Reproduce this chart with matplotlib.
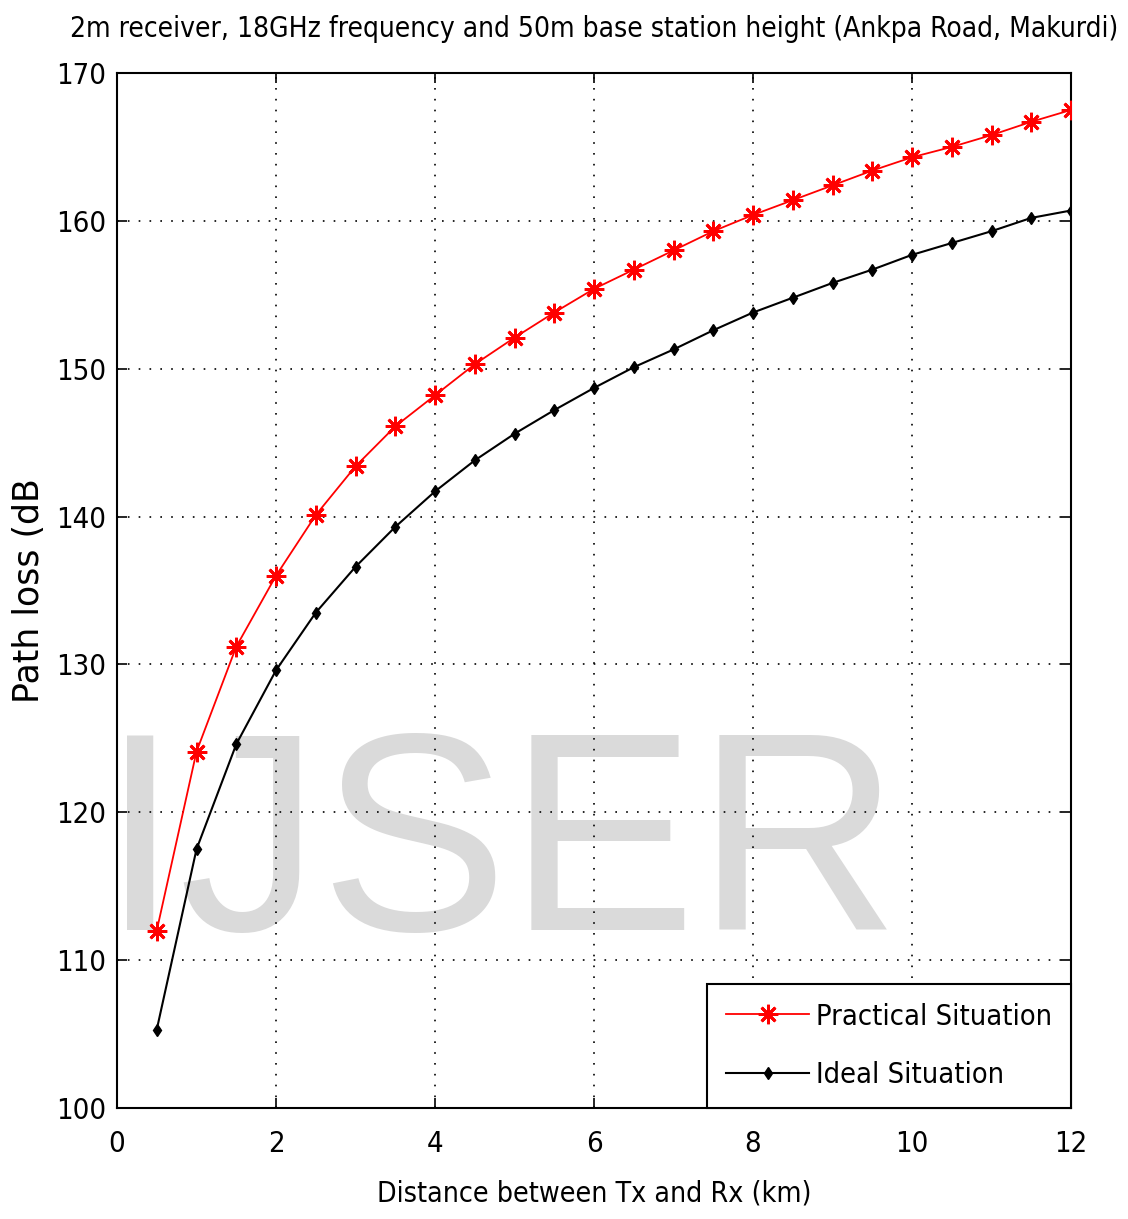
import matplotlib
matplotlib.use("Agg")
import matplotlib.pyplot as plt
from matplotlib import font_manager as fm

distance_km = [0.5, 1, 1.5, 2, 2.5, 3, 3.5, 4, 4.5, 5, 5.5, 6, 6.5, 7, 7.5, 8,
               8.5, 9, 9.5, 10, 10.5, 11, 11.5, 12]
practical_db = [112.0, 124.1, 131.2, 136.0, 140.1, 143.4, 146.1, 148.2, 150.3, 152.1,
                153.8, 155.4, 156.7, 158.0, 159.3, 160.4, 161.4, 162.4, 163.4, 164.3,
                165.0, 165.8, 166.7, 167.5]
ideal_db = [105.3, 117.5, 124.6, 129.6, 133.5, 136.6, 139.3, 141.7, 143.8, 145.6,
            147.2, 148.7, 150.1, 151.3, 152.6, 153.8, 154.8, 155.8, 156.7, 157.7,
            158.5, 159.3, 160.2, 160.7]
x_ticks = [0, 2, 4, 6, 8, 10, 12]
y_ticks = [100, 110, 120, 130, 140, 150, 160, 170]
series_labels = ["Practical Situation", "Ideal Situation"]
title_text = "2m receiver, 18GHz frequency and 50m base station height (Ankpa Road, Makurdi)"
xlabel_text = "Distance between Tx and Rx (km)"
ylabel_text = "Path loss (dB"
watermark_text = "IJSER"

# pick a condensed regular face (DejaVu Sans Condensed) if installed
cond_path = None
for f in fm.fontManager.ttflist:
    if f.fname.lower().endswith("dejavusanscondensed.ttf"):
        cond_path = f.fname
        break
if cond_path is None:
    for f in fm.fontManager.ttflist:
        low = f.fname.lower()
        if ("narrow" in low or "condensed" in low) and f.style == "normal" \
                and "bold" not in low and "oblique" not in low and "italic" not in low:
            cond_path = f.fname
            break


def fp(size):
    if cond_path:
        return fm.FontProperties(fname=cond_path, size=size)
    return fm.FontProperties(family="Liberation Sans", size=size * 0.85)


fig = plt.figure(figsize=(11.28, 12.19), dpi=100)
ax = fig.add_axes([117/1128, 1 - 1108/1219, (1071-117)/1128, (1108-73)/1219])

ax.plot(distance_km, practical_db, color="red", lw=1.3, marker=(8, 2, 0), ms=14,
        mew=2.0, label=series_labels[0], zorder=4)
ax.plot(distance_km, ideal_db, color="black", lw=1.5, marker="d", ms=6.5,
        label=series_labels[1], zorder=4)

ax.set_xlim(0, 12)
ax.set_ylim(100, 170)
ax.set_xticks(x_ticks)
ax.set_yticks(y_ticks)
ax.grid(True, color="black", linestyle=(0, (1, 5.5)), linewidth=1.2)
ax.tick_params(direction="in", length=7, width=1.2, top=True, right=True)
ax.tick_params(axis="x", pad=16)
ax.tick_params(axis="y", pad=8)

for lab in ax.get_xticklabels() + ax.get_yticklabels():
    lab.set_fontproperties(fp(21))
for sp in ax.spines.values():
    sp.set_linewidth(1.5)

ax.set_title(title_text, fontproperties=fp(20.2), pad=26)
ax.set_xlabel(xlabel_text, fontproperties=fp(20.4), labelpad=15)
ax.set_ylabel(ylabel_text, family=["DejaVu Sans"], fontsize=25, labelpad=7)

ax.text(500/1128, 1 - 857/1219, watermark_text, transform=fig.transFigure,
        ha="center", va="center", fontsize=203, color="#dadada",
        family=["Liberation Sans", "DejaVu Sans"], zorder=1)

leg = ax.legend(loc="lower right", bbox_to_anchor=(1.0, 0.0), borderaxespad=0,
                prop=fp(20.8), fancybox=False,
                framealpha=1, edgecolor="black", handlelength=2.9,
                handletextpad=0.22, borderpad=0.66, labelspacing=1.05)
leg.get_frame().set_linewidth(1.5)

fig.savefig("out.png", dpi=100)
